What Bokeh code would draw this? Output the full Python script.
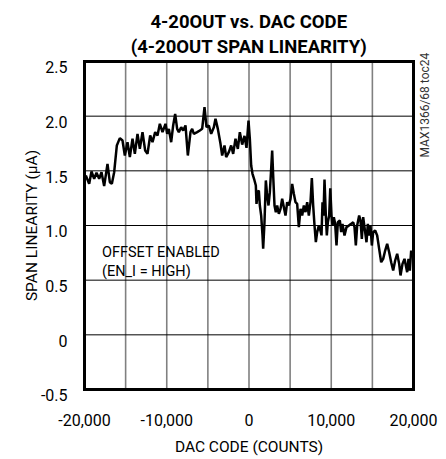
from bokeh.plotting import figure
from bokeh.models import Range1d, Label
from bokeh.core.properties import value
from bokeh.embed import file_html
from bokeh.resources import INLINE
import math

# ---- data ----
dac_code = [
    -19838, -19432, -19149, -18824, -18541, -18217, -17933, -17609, -17204, -16920,
    -16676, -16393, -16068, -15704, -15380, -15096, -14771, -14487, -14163, -13880,
    -13555, -13272, -12948, -12624, -12340, -12016, -11732, -11407, -11124, -10840,
    -10516, -10152, -9949, -9747, -9463, -9220, -8977, -8734, -8531, -8247,
    -8004, -7720, -7437, -7112, -6910, -6707, -6302, -5977, -5694, -5410,
    -5167, -4883, -4599, -4275, -4073, -3789, -3465, -3262, -2978, -2776,
    -2451, -2168, -1925, -1641, -1357, -1114, -830, -547, -303, -60,
    102, 264, 426, 669, 831, 912, 1075, 1196, 1318, 1480,
    1642, 1723, 1885, 2047, 2209, 2372, 2534, 2696, 2817, 2939,
    3101, 3263, 3425, 3628, 3831, 4033, 4236, 4439, 4641, 4844,
    5047, 5249, 5452, 5654, 5857, 6060, 6262, 6465, 6668, 6870,
    7073, 7276, 7478, 7640, 7803, 7965, 8127, 8289, 8492, 8694,
    8815, 8936, 9058, 9180, 9342, 9463, 9585, 9747, 9880, 10031,
    10152, 10314, 10476, 10638, 10801, 11044, 11206, 11368, 11611, 11854,
    12138, 12422, 12665, 12827, 12989, 13151, 13394, 13557, 13719, 13881,
    14124, 14286, 14448, 14610, 14773, 14935, 15097, 15340, 15583, 15826,
    16069, 16313, 16556, 16799, 17042, 17285, 17529, 17772, 18015, 18258,
    18420, 18663, 18907, 19069, 19231, 19393, 19555, 19717,
]
span_linearity = [
    1.457, 1.381, 1.494, 1.427, 1.482, 1.427, 1.488, 1.360, 1.564, 1.396,
    1.381, 1.488, 1.732, 1.799, 1.777, 1.640, 1.762, 1.625, 1.793, 1.655,
    1.838, 1.701, 1.854, 1.686, 1.655, 1.823, 1.762, 1.854, 1.823, 1.930,
    1.854, 1.930, 1.838, 1.884, 1.762, 1.915, 2.021, 1.884, 1.854, 1.899,
    1.869, 1.915, 1.640, 1.854, 1.884, 1.838, 1.854, 1.869, 1.884, 2.082,
    1.899, 1.915, 1.838, 1.899, 1.976, 1.884, 1.747, 1.640, 1.732, 1.625,
    1.671, 1.732, 1.655, 1.793, 1.701, 1.854, 1.740, 1.820, 1.710, 1.960,
    1.793, 1.549, 1.473, 1.412, 1.366, 1.198, 1.305, 1.320, 1.183, 1.091,
    0.909, 0.787, 1.030, 1.412, 1.274, 1.183, 1.305, 1.518, 1.686, 1.457,
    1.183, 1.122, 1.183, 1.107, 1.152, 1.244, 1.168, 1.091, 1.213, 1.183,
    1.244, 1.381, 1.290, 1.213, 1.198, 0.985, 1.152, 1.091, 1.183, 1.122,
    1.213, 1.091, 1.213, 1.433, 1.183, 1.000, 0.848, 0.939, 1.000, 0.950,
    0.910, 1.213, 1.091, 1.420, 1.091, 0.910, 1.030, 1.091, 1.340, 1.091,
    1.000, 1.076, 1.015, 0.817, 1.030, 1.046, 0.939, 1.015, 0.908, 0.985,
    0.999, 1.015, 1.030, 0.985, 0.817, 0.999, 1.091, 1.046, 0.878, 1.076,
    0.939, 0.847, 1.015, 0.908, 0.999, 0.817, 0.939, 0.954, 0.908, 0.786,
    0.664, 0.695, 0.771, 0.832, 0.756, 0.664, 0.588, 0.680, 0.741, 0.649,
    0.543, 0.649, 0.695, 0.634, 0.573, 0.695, 0.588, 0.771,
]
x_min, x_max = -20000, 20000
y_min, y_max = -0.5, 2.5
x_ticks = [-20000, -10000, 0, 10000, 20000]
x_tick_labels = ["-20,000", "-10,000", "0", "10,000", "20,000"]
x_grid = [-15000, -10000, -5000, 0, 5000, 10000, 15000]
y_ticks = [-0.5, 0, 0.5, 1.0, 1.5, 2.0, 2.5]
y_tick_labels = ["-0.5", "0", "0.5", "1.0", "1.5", "2.0", "2.5"]
y_grid = [0, 0.5, 1.0, 1.5, 2.0]
title_lines = ["4-20OUT vs. DAC CODE", "(4-20OUT SPAN LINEARITY)"]
x_label = "DAC CODE (COUNTS)"
y_label = "SPAN LINEARITY (\u00b5A)"
note_lines = ["OFFSET ENABLED", "(EN_I = HIGH)"]
side_note = "MAX1366/68 toc24"

FONT = "Roboto"
W, H = 440, 458
SHIFT = -5  # vertical correction (px)
# pixel box of the data area on the canvas
FL, FR, FT, FB = 84, 413, 66 + SHIFT, 394 + SHIFT
ux = (x_max - x_min) / (FR - FL)
uy = (y_max - y_min) / (FB - FT)


def dx(px):
    return x_min + (px - FL) * ux


def dy(py):
    return y_max - (py + SHIFT - FT) * uy


p = figure(width=W, height=H, output_backend="svg", toolbar_location=None,
           title=None, x_axis_type=None, y_axis_type=None,
           x_range=Range1d(x_min - FL * ux, x_min + (W - FL) * ux),
           y_range=Range1d(y_max - (H - FT) * uy, y_max + FT * uy),
           min_border=0)
p.background_fill_color = "white"
p.border_fill_color = "white"
p.outline_line_color = None
p.grid.visible = False

# grid
p.segment(x0=x_grid, y0=[y_min] * len(x_grid), x1=x_grid, y1=[y_max] * len(x_grid),
          line_color="#808080", line_width=1.6)
p.segment(x0=[x_min] * len(y_grid), y0=y_grid, x1=[x_max] * len(y_grid), y1=y_grid,
          line_color="black", line_width=1)

# data
p.line(dac_code, span_linearity, line_color="black", line_width=2.5)

# frame
p.quad(left=[x_min], right=[x_max], bottom=[y_min], top=[y_max],
       fill_color=None, line_color="black", line_width=3, line_join="miter")

# tick labels
p.text(x=x_ticks, y=[dy(424)] * len(x_ticks), text=x_tick_labels,
       text_align="center", text_baseline="alphabetic", text_font=value(FONT),
       text_font_size="16px", text_color="black")
p.text(x=[dx(67)] * len(y_ticks), y=[t - 5.8 * uy for t in y_ticks], text=y_tick_labels,
       text_align="right", text_baseline="alphabetic", text_font=value(FONT),
       text_font_size="16px", text_color="black")


def add_text(px, py, txt, size, align="center", baseline="alphabetic", angle=0.0,
             bold=False, color="black"):
    p.add_layout(Label(x=dx(px), y=dy(py), text=txt, text_align=align,
                       text_baseline=baseline, angle=angle, text_font=FONT,
                       text_font_style="bold" if bold else "normal",
                       text_font_size=size, text_color=color))


add_text(248.5, 26.5, title_lines[0], "18.5px", bold=True)
add_text(248.5, 51.5, title_lines[1], "18.5px", bold=True)
add_text(248.5, 451, x_label, "15.5px")
add_text(31, 230, y_label, "15.5px", baseline="middle", angle=math.pi / 2)
add_text(101.5, 256.5, note_lines[0], "14.5px", align="left")
add_text(101.5, 276, note_lines[1], "14.5px", align="left")
add_text(424, 162, side_note, "12px", align="left", baseline="middle",
         angle=math.pi / 2, color="#333333")

open("out.html", "w").write(file_html(p, INLINE))
